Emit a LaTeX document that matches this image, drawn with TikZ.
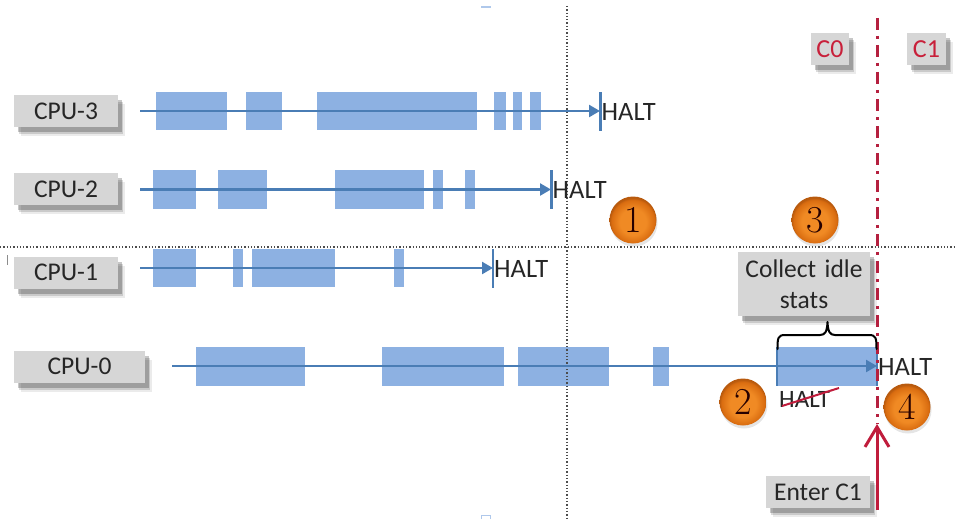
\documentclass[tikz,border=0pt]{standalone}
\usepackage{fontspec}
\setmainfont{Carlito}
\newfontfamily\ballfont{Latin Modern Roman}
\usetikzlibrary{arrows.meta,shadings}
\definecolor{barblue}{HTML}{8DB1E2}
\definecolor{lineblue}{HTML}{4A7DB5}
\definecolor{boxgray}{HTML}{D6D6D6}
\definecolor{inkdark}{HTML}{262626}
\definecolor{redcut}{HTML}{B5203F}
\definecolor{redtext}{HTML}{C8203A}
\definecolor{redarrow}{HTML}{C01C3C}
\definecolor{ballA}{HTML}{F08A24}
\definecolor{ballB}{HTML}{D96C10}
\definecolor{ballC}{HTML}{B85A0E}
\pgfdeclareradialshading{orangeball}{\pgfpoint{0bp}{-3bp}}{color(0bp)=(ballA); color(14bp)=(ballA); color(23bp)=(ballB); color(25bp)=(ballC); color(50bp)=(ballC)}
\tikzset{
  softshadow/.style={
    preaction={fill=black,fill opacity=0.08,transform canvas={shift={(7pt,-9pt)}}},
    preaction={fill=black,fill opacity=0.14,transform canvas={shift={(5pt,-7pt)}}},
    preaction={fill=black,fill opacity=0.22,transform canvas={shift={(4pt,-5pt)}}}},
  graybox/.style={softshadow,fill=boxgray,inner sep=0pt,align=center,text=inkdark,font=\fontsize{25.5}{31}\selectfont},
  flow/.style={draw=lineblue,line width=2.4pt,-{Triangle[length=11pt,width=12pt]}},
  tick/.style={draw=lineblue,line width=2.2pt},
  bar/.style={fill=barblue},
  halt/.style={inner sep=0pt,anchor=west,text=inkdark,font=\fontsize{26.5}{31}\selectfont},
  guide/.style={draw=black!70,line width=1.3pt,dotted},
  numball/.style={circle,minimum size=47pt,inner sep=0pt,shading=orangeball,text=black!85!red,font=\fontsize{38}{38}\selectfont\ballfont,
    preaction={fill=black,fill opacity=0.10,transform canvas={shift={(1pt,-3pt)}}}},
}
\begin{document}
\begin{tikzpicture}[x=1pt,y=-1pt]
\useasboundingbox (0,0) rectangle (956,519);
% bars
\foreach \a/\b in {156/227,246/282,317/477,494/506,513/522,530/541} \fill[bar] (\a,92) rectangle (\b,130);
\foreach \a/\b in {153/196,218/267,335/424,433/443,465/475} \fill[bar] (\a,170) rectangle (\b,209);
\foreach \a/\b in {153/196,233/243,252/335,394/404} \fill[bar] (\a,249) rectangle (\b,287);
\foreach \a/\b in {196/305,382/504,518/609,653/669,777/877} \fill[bar] (\a,347) rectangle (\b,386);
% guides
\coordinate (vt) at (567,6); \coordinate (vb) at (567,519);
\coordinate (hl) at (0,247); \coordinate (hr) at (956,247);
\draw[guide] (vt) -- (vb);
\draw[guide] (hl) -- (hr);
% selection handles
\fill[barblue!70] (481,6) rectangle (491,8);
\draw[barblue!70,line width=1pt] (481.5,515.5) rectangle (490.5,519);
\fill[black!45] (7,255) rectangle (8,265);
% labels
\node[graybox,minimum width=104pt,minimum height=32pt] (cpu3) at (66,111) {CPU-3};
\node[graybox,minimum width=104pt,minimum height=32pt] (cpu2) at (66,189) {CPU-2};
\node[graybox,minimum width=104pt,minimum height=32pt] (cpu1) at (66,272.5) {CPU-1};
\node[graybox,minimum width=131pt,minimum height=32pt] (cpu0) at (79.5,366.5) {CPU-0};
% timelines
\coordinate (s3) at (140,111); \coordinate (e3) at (600,111);
\coordinate (s2) at (140,189.5); \coordinate (e2) at (551,189.5);
\coordinate (s1) at (140,268); \coordinate (e1) at (493,268);
\coordinate (s0) at (172,366); \coordinate (e0) at (877,366);
\draw[flow] (s3) -- (e3);
\draw[flow] (s2) -- (e2);
\draw[flow] (s1) -- (e1);
\draw[flow] (s0) -- (e0);
\draw[tick] (600.5,92) -- (600.5,131);
\draw[tick] (551.5,170) -- (551.5,209);
\draw[tick] (493,249) -- (493,288);
\draw[tick] (777,347) -- (777,386);
\draw[tick] (877,347) -- (877,386);
\node[halt] (h3) at (601.5,112) {HALT};
\node[halt] (h2) at (552.5,190) {HALT};
\node[halt] (h1) at (494,268.5) {HALT};
\node[halt] (h0) at (878,366.5) {HALT};
\node[halt,font=\fontsize{25}{30}\selectfont] (hx) at (779,399) {HALT};
\coordinate (xa) at (782,406); \coordinate (xb) at (839,388);
\draw[redarrow,line width=2pt] (xa) -- (xb);
% collect box, brace
\node[graybox,minimum width=132pt,minimum height=64pt,text width=132pt] (collect) at (804,284) {Collect idle\\[0pt]stats};
\coordinate (cut top) at (877,18); \coordinate (cut bot) at (877,424);
\draw[redcut,line width=3pt,dash pattern=on 12pt off 6pt on 3pt off 6pt] (cut top) -- (cut bot);
\draw[black,line width=2pt,line cap=round,line join=round] (777.5,349) .. controls (777.5,338) and (778,335) .. (785,335) -- (820,335) .. controls (825,335) and (827,332) .. (827.5,322) .. controls (828,332) and (830,335) .. (835,335) -- (869,335) .. controls (876,335) and (876.5,338) .. (876.5,349);
\node[graybox,minimum width=38pt,minimum height=32pt,text=redtext,font=\fontsize{26}{30}\selectfont] (c0) at (830,49) {C0};
\node[graybox,minimum width=39pt,minimum height=32pt,text=redtext,font=\fontsize{26}{30}\selectfont] (c1) at (926.5,49) {C1};
\node[graybox,minimum width=104pt,minimum height=32pt] (enter) at (818,492) {Enter C1};
\coordinate (ar s) at (877,510); \coordinate (ar e) at (877,424);
\draw[redarrow,line width=3pt,-{Straight Barb[length=20pt,width=24pt,line width=3pt]}] (ar s) -- (ar e);
% numbered balls
\node[numball] (n1) at (633,220) {1};
\node[numball] (n3) at (815,220) {3};
\node[numball] (n2) at (743,402) {2};
\node[numball] (n4) at (907,407) {4};
\end{tikzpicture}
\end{document}
